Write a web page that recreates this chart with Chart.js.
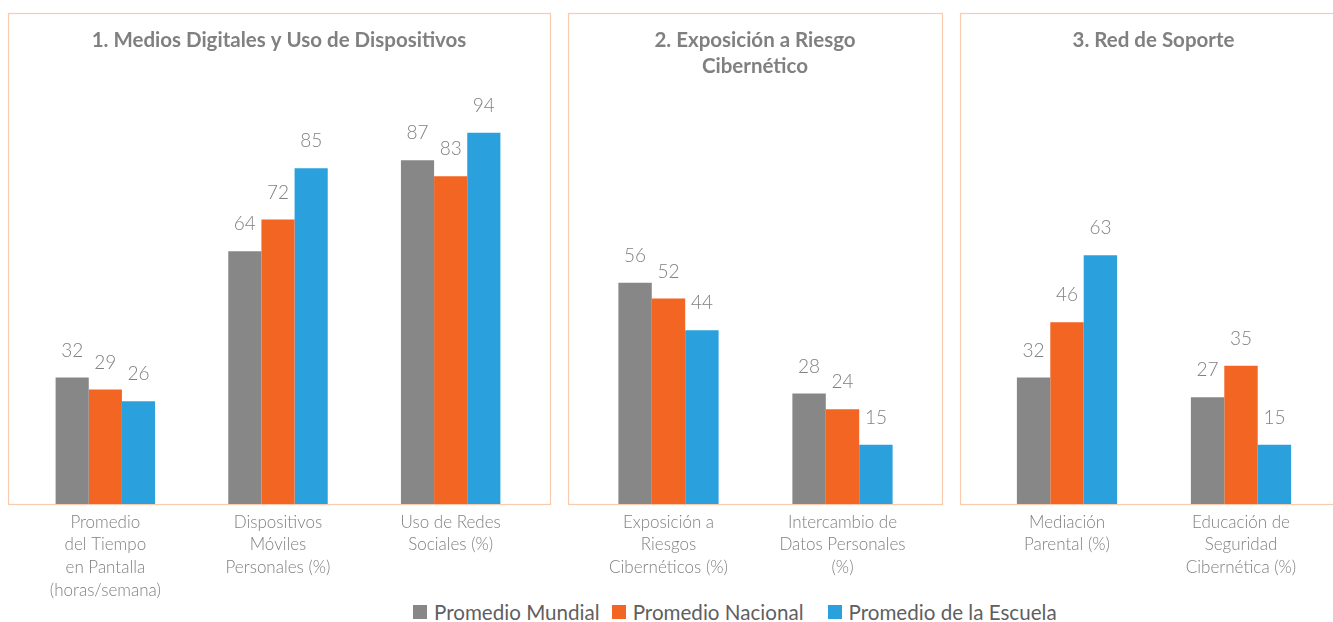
<!DOCTYPE html>
<html>
<head>
<meta charset="utf-8">
<script src="https://cdn.jsdelivr.net/npm/chart.js@4.4.0/dist/chart.umd.min.js"></script>
<style>
  html, body { margin: 0; padding: 0; background: #fff; }
  #wrap { position: relative; width: 1333px; height: 622px; overflow: hidden; }
  .panel { position: absolute; top: 0; height: 600px; }
  #legend { position: absolute; left: 413px; top: 600px; height: 24px; display: flex; align-items: center;
            font-family: Lato, sans-serif; font-size: 20.6px; color: #5f5f5f; white-space: nowrap; }
  #legend .item { display: flex; align-items: center; }
  #legend .sw { width: 14px; height: 14px; margin-right: 7px; }
</style>
</head>
<body>
<div id="wrap">
  <div class="panel" style="left:0;width:560px"><canvas id="c1"></canvas></div>
  <div class="panel" style="left:560px;width:390px"><canvas id="c2"></canvas></div>
  <div class="panel" style="left:950px;width:383px"><canvas id="c3"></canvas></div>
  <div id="legend"></div>
</div>
<script>
/* ---- Data --------------------------------------------------- */
const seriesNames = ['Promedio Mundial', 'Promedio Nacional', 'Promedio de la Escuela'];
const seriesColors = ['#878787', '#F26522', '#2AA0DC'];

const titles1 = ['1. Medios Digitales y Uso de Dispositivos'];
const categories1 = [['Promedio', 'del Tiempo', 'en Pantalla', '(horas/semana)'], ['Dispositivos', 'Móviles', 'Personales (%)'], ['Uso de Redes', 'Sociales (%)']];
const mundial1 = [32, 64, 87];
const nacional1 = [29, 72, 83];
const escuela1 = [26, 85, 94];

const titles2 = ['2. Exposición a Riesgo', 'Cibernético'];
const categories2 = [['Exposición a', 'Riesgos', 'Cibernéticos (%)'], ['Intercambio de', 'Datos Personales', '(%)']];
const mundial2 = [56, 28];
const nacional2 = [52, 24];
const escuela2 = [44, 15];

const titles3 = ['3. Red de Soporte'];
const categories3 = [['Mediación', 'Parental (%)'], ['Educación de', 'Seguridad', 'Cibernética (%)']];
const mundial3 = [32, 27];
const nacional3 = [46, 35];
const escuela3 = [63, 15];

const Y_MAX = 110;
const GRAY = '#808080';

/* ---- Plugin: peach frame, panel title, value labels ------------ */
const panelDecor = {
  id: 'panelDecor',
  beforeDraw(chart, args, opts) {
    const { ctx, chartArea } = chart;
    ctx.save();
    ctx.strokeStyle = '#F9CBAE';
    ctx.lineWidth = 1.2;
    ctx.strokeRect(opts.boxLeft + 0.5, 13.5, opts.boxRight - opts.boxLeft, chartArea.bottom - 13);
    ctx.fillStyle = GRAY;
    ctx.font = 'bold 20.5px Lato, sans-serif';
    ctx.textAlign = 'center';
    ctx.textBaseline = 'middle';
    const cx = (opts.boxLeft + opts.boxRight) / 2;
    opts.title.forEach((line, i) => ctx.fillText(line, cx, 40 + i * 26));
    ctx.restore();
  },
  afterDatasetsDraw(chart) {
    const { ctx } = chart;
    ctx.save();
    ctx.fillStyle = GRAY;
    ctx.font = '300 19px Lato, sans-serif';
    ctx.textAlign = 'center';
    ctx.textBaseline = 'middle';
    chart.data.datasets.forEach((ds, i) => {
      chart.getDatasetMeta(i).data.forEach((bar, j) => {
        ctx.fillText(ds.data[j], bar.x, bar.y - 27);
      });
    });
    ctx.restore();
  }
};

function panel(id, title, labels, m, n, e, pad, box) {
  return new Chart(document.getElementById(id), {
    type: 'bar',
    data: {
      labels,
      datasets: [m, n, e].map((d, i) => ({
        label: seriesNames[i], data: d, backgroundColor: seriesColors[i],
        borderWidth: 0, barPercentage: 1, categoryPercentage: 0.576,
      })),
    },
    options: {
      responsive: true, maintainAspectRatio: false, animation: false,
      layout: { padding: { left: pad[0], right: pad[1], top: 69.5, bottom: 0 } },
      plugins: {
        legend: { display: false }, tooltip: { enabled: false },
        panelDecor: { title, boxLeft: box[0], boxRight: box[1] },
      },
      scales: {
        x: {
          grid: { display: false, drawTicks: false }, border: { display: false },
          ticks: { color: GRAY, padding: 7, maxRotation: 0, autoSkip: false,
                   font: { family: 'Lato, sans-serif', size: 17, weight: '300', lineHeight: 1.33 } },
          afterFit: s => { s.height = 96; },
        },
        y: { display: false, min: 0, max: Y_MAX },
      },
    },
    plugins: [panelDecor],
  });
}

panel('c1', titles1, categories1, mundial1, nacional1, escuela1, [19, 23], [8, 550]);
panel('c2', titles2, categories2, mundial2, nacional2, escuela2, [21.5, 20.5], [8, 382]);
panel('c3', titles3, categories3, mundial3, nacional3, escuela3, [30, 5], [10, 397]);

/* ---- Shared legend --------------------------------------------- */
const legend = document.getElementById('legend');
const legendGaps = [12, 24, 0];
seriesNames.forEach((name, i) => {
  const item = document.createElement('div');
  item.className = 'item';
  item.style.marginRight = legendGaps[i] + 'px';
  item.innerHTML = '<span class="sw" style="background:' + seriesColors[i] + '"></span>' + name;
  legend.appendChild(item);
});
</script>
</body>
</html>
